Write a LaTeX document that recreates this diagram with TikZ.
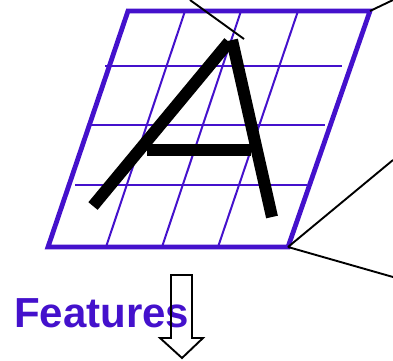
\documentclass[tikz,border=0pt]{standalone}
\usepackage{fontspec}
\setmainfont{Liberation Sans}
\definecolor{gridblue}{HTML}{4411CC}
\begin{document}
\begin{tikzpicture}[x=1pt,y=-1pt,
  outer/.style={draw=gridblue,line width=4.8pt,line join=miter},
  gridline/.style={draw=gridblue,line width=2pt},
  stroke/.style={draw=black,line width=12pt},
  pointer/.style={draw=black,line width=1.9pt},
  arrowbox/.style={draw=black,line width=1.9pt,line join=miter}]
\useasboundingbox (0,0) rectangle (393,360);
% grid lines
\draw[gridline] (105,66) -- (342,66);
\draw[gridline] (90,125) -- (325,125);
\draw[gridline] (75,185) -- (307,185);
\draw[gridline] (185,11) -- (106,247);
\draw[gridline] (241,11) -- (162,247);
\draw[gridline] (298,11) -- (218,247);
% outer parallelogram
\coordinate (tl) at (128,11);
\coordinate (tr) at (370,11);
\coordinate (br) at (288,247);
\coordinate (bl) at (48,247);
\draw[outer] (tl) -- (tr) -- (br) -- (bl) -- cycle;
% letter A
\draw[stroke] (93,206) -- (229,42);
\draw[stroke] (232,40) -- (272,217);
\draw[stroke] (147,150) -- (251,150);
% pointer lines
\coordinate (p1) at (190,0);
\coordinate (p2) at (244,39);
\coordinate (e1) at (393,0);
\coordinate (e2) at (393,160);
\coordinate (e3) at (393,277);
\draw[pointer] (p1) -- (p2);
\draw[pointer] (tr) -- (e1);
\draw[pointer] (br) -- (e2);
\draw[pointer] (br) -- (e3);
% label
\node[anchor=base west,inner sep=0pt,text=gridblue,font=\fontsize{42}{42}\selectfont\bfseries] (feat) at (14,327) {Features};
% down arrow
\draw[arrowbox] (171,275) -- (192,275) -- (192,338) -- (203,338) -- (182,358) -- (160,338) -- (171,338) -- cycle;
\end{tikzpicture}
\end{document}
